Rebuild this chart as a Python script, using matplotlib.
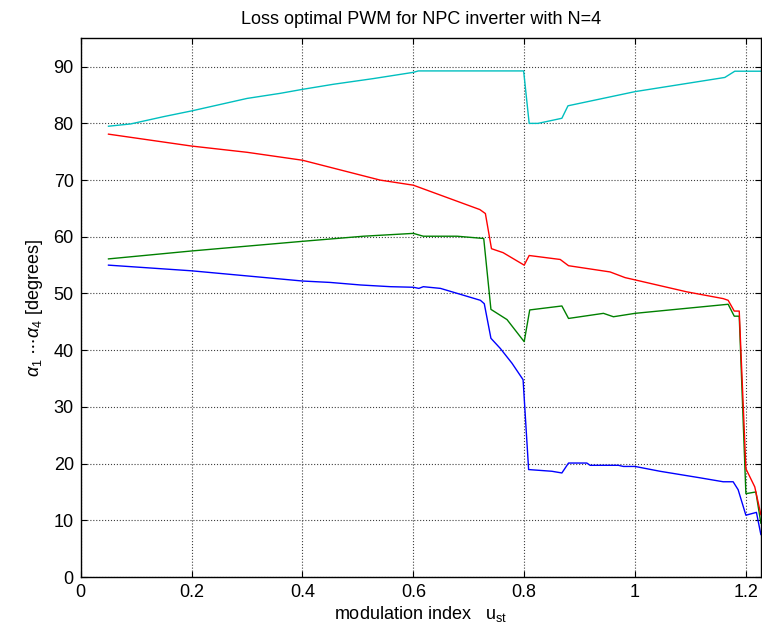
import numpy as np
import matplotlib
matplotlib.use("Agg")
import matplotlib.pyplot as plt

plt.rcParams['font.family'] = ['Liberation Sans', 'DejaVu Sans']
plt.rcParams['mathtext.fontset'] = 'custom'
plt.rcParams['mathtext.rm'] = 'Liberation Sans'
plt.rcParams['mathtext.it'] = 'Liberation Sans:italic'

# breakpoints (modulation index, angle in degrees)
x_a4 = [0.05, 0.09, 0.15, 0.20, 0.30, 0.36, 0.40, 0.456, 0.528, 0.60, 0.609, 0.799, 0.809,
        0.825, 0.868, 0.879, 1.00, 1.162, 1.18, 1.227]
a4 = [79.5, 79.9, 81.2, 82.2, 84.4, 85.3, 86.0, 86.9, 87.9, 89.0, 89.25, 89.25, 80.0,
      80.0, 80.9, 83.1, 85.6, 88.1, 89.2, 89.2]

x_a3 = [0.05, 0.20, 0.30, 0.40, 0.54, 0.60, 0.72, 0.73, 0.741, 0.762, 0.80, 0.809, 0.865, 0.88,
        0.955, 0.982, 1.00, 1.093, 1.159, 1.168, 1.179, 1.188, 1.20, 1.216, 1.227]
a3 = [78.1, 76.0, 74.9, 73.5, 70.0, 69.1, 64.8, 64.1, 57.9, 57.2, 55.0, 56.7, 56.0, 54.9,
      53.8, 52.8, 52.4, 50.3, 49.1, 48.8, 46.9, 46.9, 19.1, 15.9, 11.0]

x_a2 = [0.05, 0.20, 0.40, 0.51, 0.60, 0.618, 0.679, 0.727, 0.74, 0.769, 0.80, 0.81,
        0.868, 0.88, 0.943, 0.961, 1.00, 1.168, 1.179, 1.188, 1.20, 1.218, 1.227]
a2 = [56.1, 57.5, 59.2, 60.1, 60.6, 60.1, 60.1, 59.7, 47.2, 45.4, 41.5, 47.1,
      47.8, 45.6, 46.5, 45.9, 46.5, 48.1, 46.0, 46.0, 14.7, 15.0, 9.5]

x_a1 = [0.05, 0.20, 0.40, 0.45, 0.505, 0.559, 0.60, 0.61, 0.618, 0.649, 0.721, 0.728,
        0.74, 0.757, 0.778, 0.798, 0.808, 0.85, 0.868, 0.88, 0.913, 0.919, 0.97, 0.979,
        1.00, 1.045, 1.117, 1.159, 1.177, 1.186, 1.20, 1.219, 1.227]
a1 = [55.0, 54.0, 52.2, 51.95, 51.5, 51.2, 51.1, 50.9, 51.2, 50.9, 48.8, 48.2,
      42.1, 40.3, 37.7, 34.8, 18.95, 18.65, 18.35, 20.1, 20.1, 19.7, 19.7, 19.5,
      19.5, 18.65, 17.5, 16.8, 16.8, 15.4, 10.9, 11.4, 7.5]

fig = plt.figure(figsize=(7.62, 6.44), dpi=100)
ax = fig.add_axes([0.106, 0.104, 0.8925, 0.8365])

ax.plot(x_a1, a1, color=(0, 0, 1), lw=1.0)
ax.plot(x_a2, a2, color=(0, 0.5, 0), lw=1.0)
ax.plot(x_a3, a3, color=(1, 0, 0), lw=1.0)
ax.plot(x_a4, a4, color=(0, 0.75, 0.75), lw=1.0)

ax.set_xlim(0, 1.227)
ax.set_ylim(0, 95)
ax.set_xticks([0, 0.2, 0.4, 0.6, 0.8, 1.0, 1.2])
ax.set_xticklabels(['0', '0.2', '0.4', '0.6', '0.8', '1', '1.2'])
ax.set_yticks(np.arange(0, 91, 10))
ax.grid(True, color='0.25', linestyle=':', linewidth=0.8)
ax.tick_params(direction='in', top=True, right=True, labelsize=13, length=4, pad=5)
for s in ax.spines.values():
    s.set_linewidth(1.0)

ax.set_title('Loss optimal PWM for NPC inverter with N=4', fontsize=13, pad=10)
ax.set_xlabel(r'modulation index   u$_{\mathrm{st}}$', fontsize=13, labelpad=2)
ax.set_ylabel(r'$\alpha_1$ $\cdots\alpha_4$ [degrees]', fontsize=13, labelpad=6)

fig.savefig('out.png', dpi=100)
